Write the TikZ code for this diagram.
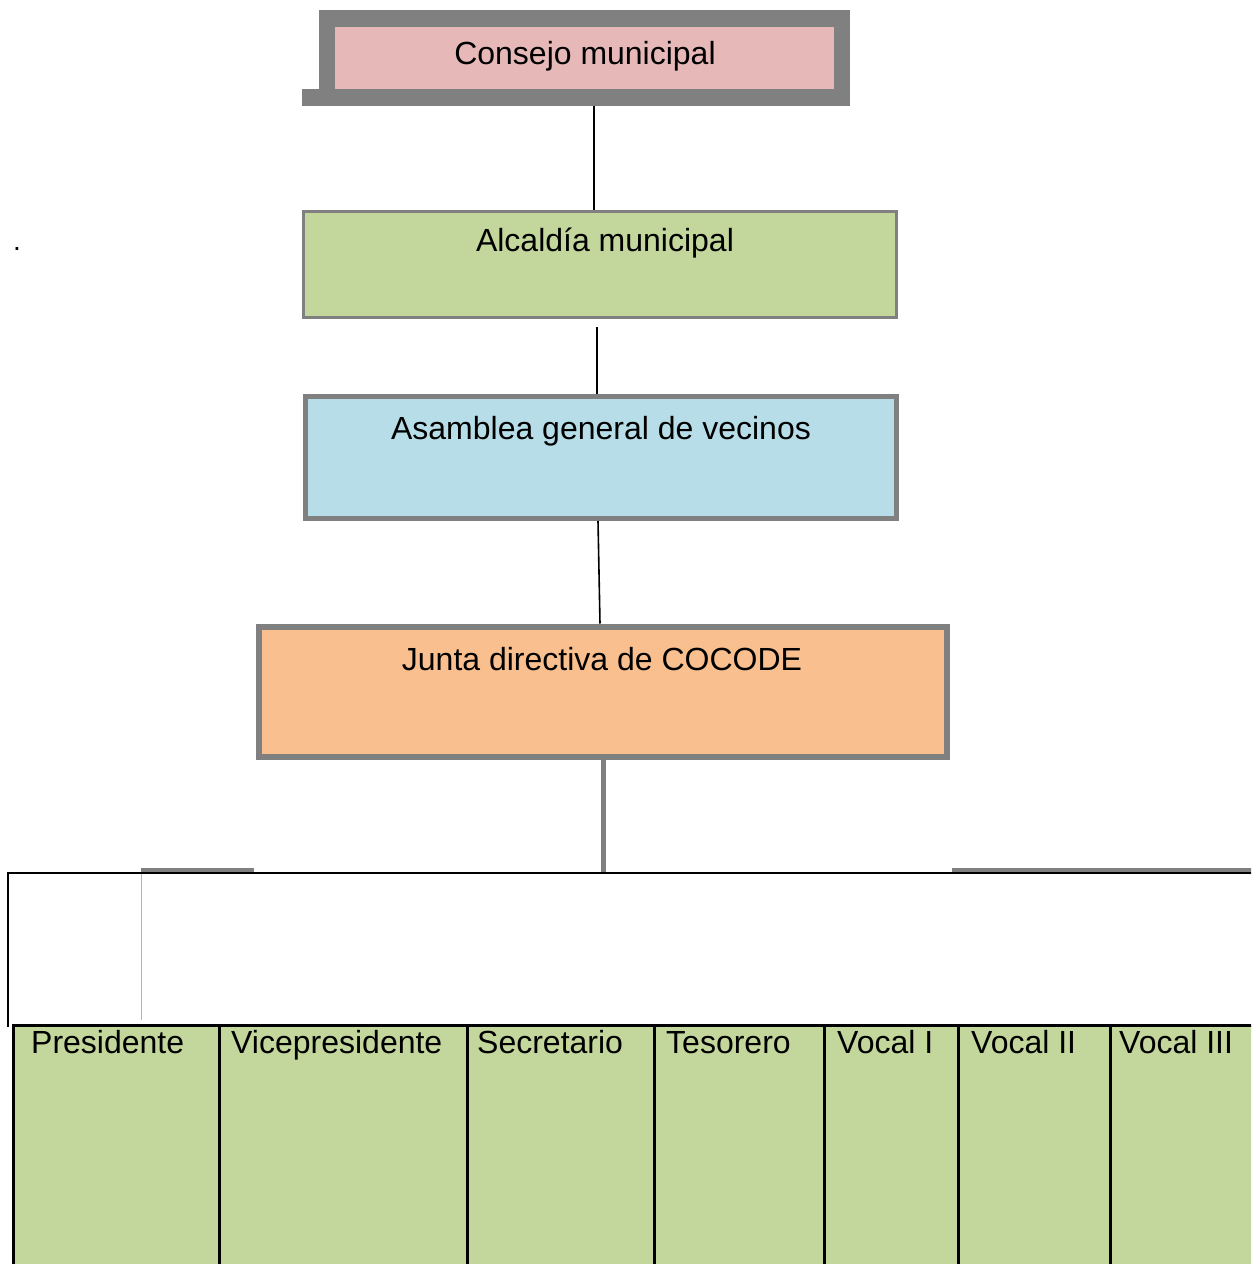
\documentclass[tikz,border=0pt]{standalone}
\usepackage{fontspec}
\setmainfont{Liberation Sans}
\definecolor{pinkfill}{HTML}{E6B9B8}
\definecolor{cellgreen}{HTML}{C3D69B}
\definecolor{bluefill}{HTML}{B7DEE8}
\definecolor{orangefill}{HTML}{F9BF8F}
\definecolor{frame}{HTML}{808080}
\begin{document}
\begin{tikzpicture}[x=1pt,y=-1pt,
  box/.style={draw=frame, rectangle, inner sep=0pt},
  lbl/.style={anchor=base, inner sep=0pt, font=\fontsize{32}{36}\selectfont},
  cell/.style={draw=black, line width=3pt, fill=cellgreen, rectangle, inner sep=0pt, outer sep=0pt, minimum height=260pt, anchor=north west},
  clbl/.style={anchor=base west, inner sep=0pt, font=\fontsize{32}{36}\selectfont},
  conn/.style={draw=black, line width=2.5pt}]
\fill[white] (0,0) rectangle (1251,1264);
\clip (0,0) rectangle (1251,1264);

% boxes
\fill[frame] (302,89) rectangle (319,106);
\node[box, fill=pinkfill, line width=16.5pt, minimum width=515pt, minimum height=79pt] (c1) at (584.5,58) {};
\node[lbl] (t1) at (585,64) {Consejo municipal};

\node[box, fill=cellgreen, line width=3pt, minimum width=593pt, minimum height=106pt] (a2) at (600,264.5) {};
\node[lbl] (t2) at (605,251) {Alcaldía municipal};

\node[box, fill=bluefill, line width=5pt, minimum width=591pt, minimum height=122pt] (a3) at (601,457.5) {};
\node[lbl] (t3) at (601,439) {Asamblea general de vecinos};

\node[box, fill=orangefill, line width=6pt, minimum width=688pt, minimum height=130pt] (j4) at (603,691.5) {};
\node[lbl] (t4) at (602,670) {Junta directiva de COCODE};

\node[anchor=base west, inner sep=0pt, font=\fontsize{28}{30}\selectfont] (dot) at (13,250) {.};

% connectors
\draw[conn] ([xshift=9.5pt]c1.south) -- ([xshift=-6pt]a2.north);
\draw[conn, line width=1.6pt] ([xshift=-3pt,yshift=-8pt]a2.south) -- ([xshift=-4pt]a3.north);
\draw[conn, line width=1.6pt] ([xshift=-3pt]a3.south) -- ([xshift=-3pt]j4.north);

\coordinate (bus) at (603,873);
\coordinate (busL) at (8,873);
\coordinate (busR) at (1260,873);
\coordinate (busLdown) at (8,1027);
\draw[frame, line width=5pt] (j4.south) -- (bus);
\draw[frame, line width=4pt] (141,869.5) -- (254,869.5);
\draw[frame, line width=4pt] (952,869.5) -- (1260,869.5);
\draw[frame!60, line width=1pt] (141,873) -- (141,1020);
\draw[black, line width=2pt] (busLdown) -- (busL) -- (busR);

% bottom row
\node[cell, minimum width=206pt] (p1) at (13.5,1025.5) {};
\node[cell, minimum width=248pt] (p2) at (219.5,1025.5) {};
\node[cell, minimum width=187pt] (p3) at (467.5,1025.5) {};
\node[cell, minimum width=170pt] (p4) at (654.5,1025.5) {};
\node[cell, minimum width=134pt] (p5) at (824.5,1025.5) {};
\node[cell, minimum width=152pt] (p6) at (958.5,1025.5) {};
\node[cell, minimum width=160pt] (p7) at (1110.5,1025.5) {};

\node[clbl] (l1) at (31,1053) {Presidente};
\node[clbl] (l2) at (231,1053) {Vicepresidente};
\node[clbl] (l3) at (477,1053) {Secretario};
\node[clbl] (l4) at (666,1053) {Tesorero};
\node[clbl] (l5) at (837,1053) {Vocal I};
\node[clbl] (l6) at (971,1053) {Vocal II};
\node[clbl] (l7) at (1119,1053) {Vocal III};
\end{tikzpicture}
\end{document}
